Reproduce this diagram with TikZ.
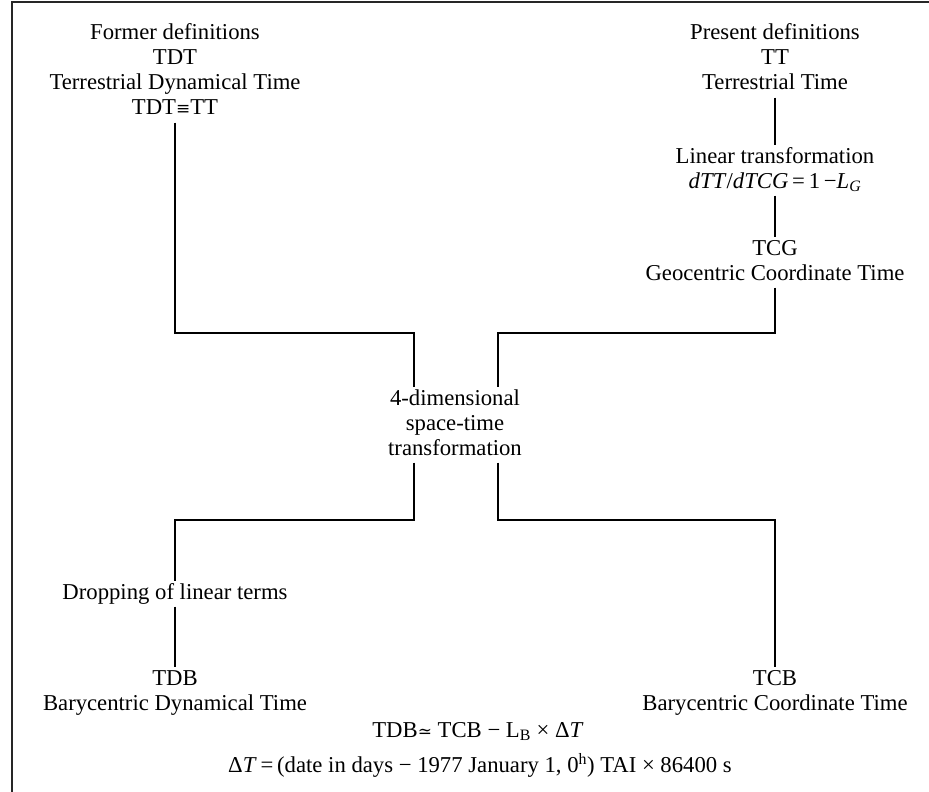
\documentclass[tikz,border=0pt]{standalone}
\usepackage{fontspec}
\setmainfont{Liberation Serif}
\newfontfamily\symfont{DejaVu Serif}
\newcommand\blk[1]{\begin{tabular}[t]{@{}c@{}}#1\end{tabular}}
\tikzset{
  lbl/.style={anchor=base, inner sep=0pt, font=\fontsize{22.7}{25}\selectfont},
  conn/.style={draw, line width=1.1pt, line join=miter},
  frame/.style={draw, line width=1.8pt, color=black!85}
}
\begin{document}
\begin{tikzpicture}[x=1pt,y=-1pt]
\useasboundingbox (0,0) rectangle (929,792);
% frame (top and left edges only)
\coordinate (fa) at (929,2);
\coordinate (fb) at (12,2);
\coordinate (fc) at (12,792);
\draw[frame] (fa) -- (fb) -- (fc);

\node[lbl] (former) at (175,40) {\blk{Former definitions\\TDT\\Terrestrial Dynamical Time\\TDT{\symfont\fontsize{17}{25}\selectfont ≡}TT}};
\node[lbl] (present) at (775,40) {\blk{Present definitions\\TT\\Terrestrial Time}};
\node[lbl] (linear) at (775,163) {\blk{Linear transformation\\\textit{dTT}/\textit{dTCG}\,=\,1\,−\textit{L}\textsubscript{\textit{G}}}};
\node[lbl] (tcg) at (775,255) {\blk{TCG\\Geocentric Coordinate Time}};
\node[lbl] (center) at (455,405) {\blk{4-dimensional\\space-time\\transformation}};
\node[lbl] (dropping) at (175,599) {\blk{Dropping of linear terms}};
\node[lbl] (tdb) at (175,685) {\blk{TDB\\Barycentric Dynamical Time}};
\node[lbl] (tcb) at (775,685) {\blk{TCB\\Barycentric Coordinate Time}};
\node[lbl] (rel) at (478,737) {TDB{\symfont\fontsize{17}{25}\selectfont ≃} TCB − L\textsubscript{B} × Δ\textit{T}};
\node[lbl] (dt) at (480,772) {Δ\textit{T}\,=\,(date in days − 1977 January 1, 0\textsuperscript{h}) TAI × 86400 s};

\coordinate (jtl) at (414,333);
\coordinate (jtr) at (498,333);
\coordinate (jbl) at (414,520);
\coordinate (jbr) at (498,520);

\draw[conn] (present) -- (linear);
\draw[conn] (linear) -- (tcg);
\draw[conn] (former.south) |- (jtl) -- (jtl |- center.north);
\draw[conn] (tcg.south) |- (jtr) -- (jtr |- center.north);
\draw[conn] (jbl |- center.south) -- (jbl) -| (dropping.north);
\draw[conn] (jbr |- center.south) -- (jbr) -| (tcb.north);
\draw[conn] (dropping) -- (tdb);
\end{tikzpicture}
\end{document}
